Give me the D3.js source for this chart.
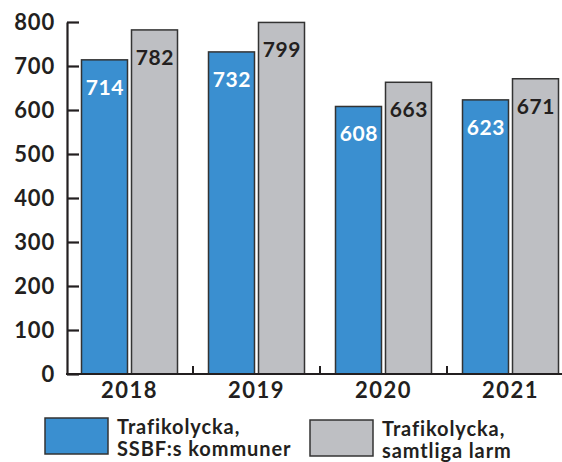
<!DOCTYPE html>
<html>
<head>
<meta charset="utf-8">
<script src="https://cdn.jsdelivr.net/npm/d3@7"></script>
<style>
  body { margin: 0; background: #fff; }
  text { font-family: Lato, "Open Sans", sans-serif; }
</style>
</head>
<body>
<div id="chart"></div>
<script>
// chart data
var years = ["2018", "2019", "2020", "2021"];
var seriesNames = ["Trafikolycka, SSBF:s kommuner", "Trafikolycka, samtliga larm"];
var ssbfValues = [714, 732, 608, 623];
var allValues = [782, 799, 663, 671];
var yTicks = [0, 100, 200, 300, 400, 500, 600, 700, 800];
var colors = ["#3a8fd0", "#bebfc3"];
var labelColors = ["#ffffff", "#231f20"];

var svgWidth = 562;
var svgHeight = 462;

var svg = d3.select("#chart")
  .append("svg")
  .attr("width", svgWidth)
  .attr("height", svgHeight);

// scales
var x0 = d3.scaleBand()
  .domain(years)
  .range([66, 574]);

var x1 = d3.scaleBand()
  .domain([0, 1])
  .range([15.5, x0.bandwidth() - 15.5])
  .paddingInner(0.08);

var y = d3.scaleLinear()
  .domain([0, 800])
  .range([374, 22]);

// y axis (inner ticks, drawn under the bars)
var yAxis = d3.axisLeft(y)
  .tickValues(yTicks)
  .tickSizeInner(-12)
  .tickSizeOuter(0)
  .tickPadding(12);

var yg = svg.append("g")
  .attr("transform", "translate(67,0)")
  .call(yAxis);
yg.select(".domain").attr("stroke", "#231f20").attr("stroke-width", 2.2);
yg.selectAll(".tick line").attr("stroke", "#231f20").attr("stroke-width", 2.2);
yg.selectAll(".tick text")
  .attr("font-size", "22px")
  .attr("font-weight", 700)
  .attr("letter-spacing", "0.8px")
  .attr("fill", "#231f20")
  .style("font-family", "Lato, sans-serif");

// bars
var rows = years.map(function(yr, i) {
  return { year: yr, values: [ssbfValues[i], allValues[i]] };
});

var groups = svg.selectAll("g.year")
  .data(rows)
  .enter().append("g")
  .attr("class", "year")
  .attr("transform", d => `translate(${x0(d.year)},0)`);

var cells = groups.selectAll("g.bar")
  .data(d => d.values.map((v, k) => ({ k: k, v: v })))
  .enter().append("g");

cells.append("rect")
  .attr("x", d => x1(d.k))
  .attr("y", d => y(d.v))
  .attr("width", x1.bandwidth())
  .attr("height", d => y(0) - y(d.v))
  .attr("fill", d => colors[d.k])
  .attr("stroke", "#333")
  .attr("stroke-width", 1.5);

cells.append("text")
  .attr("x", d => x1(d.k) + x1.bandwidth() / 2 + 0.3)
  .attr("y", d => y(d.v) + 35)
  .attr("text-anchor", "middle")
  .attr("font-size", "21px")
  .attr("font-weight", 700)
  .attr("letter-spacing", "0.6px")
  .attr("fill", d => labelColors[d.k])
  .text(d => d.v);

// x axis
var xAxis = d3.axisBottom(x0)
  .tickSize(0)
  .tickPadding(8);

var xg = svg.append("g")
  .attr("transform", `translate(0,${y(0)})`)
  .call(xAxis);
xg.select(".domain").attr("stroke", "#231f20").attr("stroke-width", 2.2)
  .attr("d", `M66,0H${svgWidth}`);
xg.selectAll(".tick text")
  .attr("font-size", "22px")
  .attr("font-weight", 700)
  .attr("letter-spacing", "1.5px")
  .attr("fill", "#231f20")
  .style("font-family", "Lato, sans-serif");

// small ticks between groups
xg.selectAll("line.sep")
  .data(years.slice(1))
  .enter().append("line")
  .attr("class", "sep")
  .attr("x1", d => x0(d))
  .attr("x2", d => x0(d))
  .attr("y1", 0)
  .attr("y2", -8)
  .attr("stroke", "#231f20")
  .attr("stroke-width", 2);

// legend
var legendX = [45, 310];
var legendY = [418, 420];
var legend = svg.selectAll("g.legend")
  .data(seriesNames)
  .enter().append("g")
  .attr("class", "legend")
  .attr("transform", (d, i) => `translate(${legendX[i]},${legendY[i]})`);

legend.append("rect")
  .attr("width", 63)
  .attr("height", 36)
  .attr("fill", (d, i) => colors[i])
  .attr("stroke", "#333")
  .attr("stroke-width", 1.5);

legend.each(function(d) {
  var parts = d.split(", ");
  var t = d3.select(this).append("text")
    .attr("x", 72)
    .attr("y", 16)
    .attr("font-size", "20px")
    .attr("font-weight", 700)
    .attr("letter-spacing", "0.9px")
    .attr("fill", "#231f20");
  t.append("tspan").attr("x", 72).text(parts[0] + ",");
  t.append("tspan").attr("x", 72).attr("dy", 22).text(parts[1]);
});
</script>
</body>
</html>
